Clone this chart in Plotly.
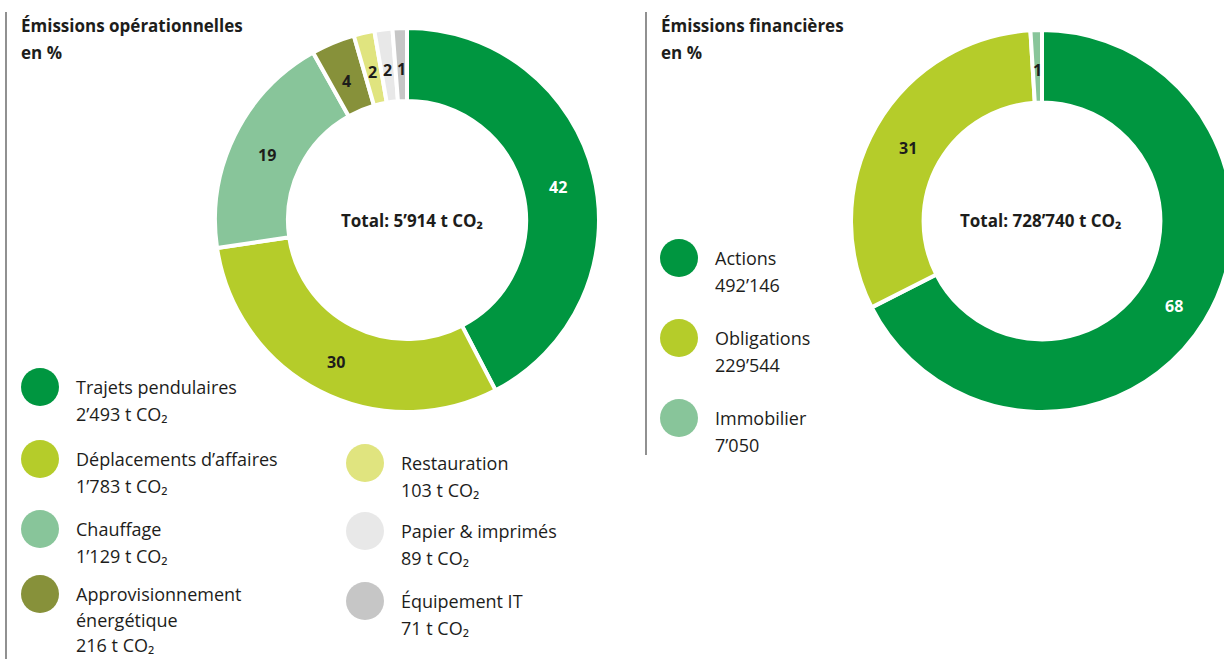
import math
import plotly.graph_objects as go

W, H = 1240, 659  # a bit wider than the 1224 viewport so the right donut is cropped like the original

# ---------------- data ----------------
ops_labels = ["Trajets pendulaires", "Déplacements d’affaires", "Chauffage",
              "Approvisionnement<br>énergétique", "Restauration", "Papier & imprimés",
              "Équipement IT"]
ops_values = [2493, 1783, 1129, 216, 103, 89, 71]
ops_pct = ["42", "30", "19", "4", "2", "2", "1"]
ops_value_labels = ["2’493 t CO₂", "1’783 t CO₂", "1’129 t CO₂", "216 t CO₂",
                    "103 t CO₂", "89 t CO₂", "71 t CO₂"]
ops_colors = ["#009640", "#b5cc2a", "#88c59a", "#87913a", "#e0e47f", "#e8e8e8", "#c6c6c6"]
ops_textcolors = ["#ffffff", "#1d1d1b", "#1d1d1b", "#1d1d1b", "#1d1d1b", "#1d1d1b", "#1d1d1b"]
ops_total = "Total: 5’914 t CO₂"

fin_labels = ["Actions", "Obligations", "Immobilier"]
fin_values = [492146, 229544, 7050]
fin_pct = ["68", "31", "1"]
fin_value_labels = ["492’146", "229’544", "7’050"]
fin_colors = ["#009640", "#b5cc2a", "#88c59a"]
fin_textcolors = ["#ffffff", "#1d1d1b", "#1d1d1b"]
fin_total = "Total: 728’740 t CO₂"

FONT = "Open Sans"
DARK = "#1d1d1b"
HOLE = 0.62

# pie geometry (pixels)
OPS_C = (407, 220, 192)
FIN_C = (1042, 221, 191)


def px_domain(cx, cy, r):
    return dict(x=[(cx - r) / W, (cx + r) / W], y=[1 - (cy + r) / H, 1 - (cy - r) / H])


fig = go.Figure()

for vals, labs, cols, geo in [(ops_values, ops_labels, ops_colors, OPS_C),
                              (fin_values, fin_labels, fin_colors, FIN_C)]:
    fig.add_trace(go.Pie(
        values=vals, labels=labs, textinfo="none",
        marker=dict(colors=cols, line=dict(color="white", width=4)),
        hole=HOLE, sort=False, direction="clockwise", rotation=0,
        domain=px_domain(*geo), showlegend=False, hoverinfo="skip",
    ))

annotations = []


def txt(x, y, s, size=18, bold=False, anchor="left", color=DARK):
    annotations.append(dict(
        x=x, y=y, xref="x", yref="y", text=f"<b>{s}</b>" if bold else s,
        showarrow=False, xanchor=anchor, yanchor="middle",
        font=dict(family=FONT, size=size, color=color),
    ))


# percentage labels at the middle of each ring segment
for vals, pcts, tcols, (cx, cy, r) in [(ops_values, ops_pct, ops_textcolors, OPS_C),
                                       (fin_values, fin_pct, fin_textcolors, FIN_C)]:
    tot = sum(vals)
    cum = 0
    rm = r * (1 + HOLE) / 2
    for v, p, c in zip(vals, pcts, tcols):
        mid = (cum + v / 2) / tot * 2 * math.pi
        cum += v
        txt(cx + rm * math.sin(mid), cy - rm * math.cos(mid) + 4, p, size=16, bold=True,
            anchor="center", color=c)

# ---------------- legends (pixel space) ----------------
ops_leg_pos = [(40, 387), (40, 459), (40, 529), (40, 594), (365, 463), (365, 531), (365, 601)]
fin_leg_pos = [(679, 258), (679, 338), (679, 418)]

fig.add_trace(go.Scatter(
    x=[p[0] for p in ops_leg_pos] + [p[0] for p in fin_leg_pos],
    y=[p[1] for p in ops_leg_pos] + [p[1] for p in fin_leg_pos],
    mode="markers",
    marker=dict(size=38, color=ops_colors + fin_colors, line=dict(width=0)),
    showlegend=False, hoverinfo="skip",
))

LINE = 26.5
for (dx, dy), lab, val in zip(ops_leg_pos, ops_labels, ops_value_labels):
    lines = lab.split("<br>") + [val]
    step = LINE if len(lines) == 2 else 25.5
    for i, l in enumerate(lines):
        txt(dx + 34, dy + i * step, l)

for (dx, dy), lab, val in zip(fin_leg_pos, fin_labels, fin_value_labels):
    for i, l in enumerate([lab, val]):
        txt(dx + 34, dy + i * LINE, l)

# titles
txt(19, 25, "Émissions opérationnelles", size=17, bold=True)
txt(19, 52, "en %", size=17, bold=True)
txt(659, 25, "Émissions financières", size=17, bold=True)
txt(659, 52, "en %", size=17, bold=True)

# center totals
txt(412, 220, ops_total, size=17, bold=True, anchor="center")
txt(1041, 220, fin_total, size=17, bold=True, anchor="center")

shapes = [
    dict(type="line", xref="x", yref="y", x0=6, x1=6, y0=12, y1=659,
         line=dict(color="#555555", width=1.3)),
    dict(type="line", xref="x", yref="y", x0=646, x1=646, y0=12, y1=455,
         line=dict(color="#555555", width=1.3)),
]

fig.update_layout(
    width=W, height=H, margin=dict(l=0, r=0, t=0, b=0),
    paper_bgcolor="white", plot_bgcolor="white",
    xaxis=dict(range=[0, W], visible=False, domain=[0, 1], fixedrange=True),
    yaxis=dict(range=[H, 0], visible=False, domain=[0, 1], fixedrange=True),
    annotations=annotations, shapes=shapes,
    font=dict(family=FONT, color=DARK),
)

fig.write_html(
    "out.html",
    config={"displayModeBar": False, "staticPlot": True},
    post_script=("document.body.style.margin='0';"
                 "document.body.style.overflow='hidden';"
                 "document.documentElement.style.overflow='hidden';"),
)
